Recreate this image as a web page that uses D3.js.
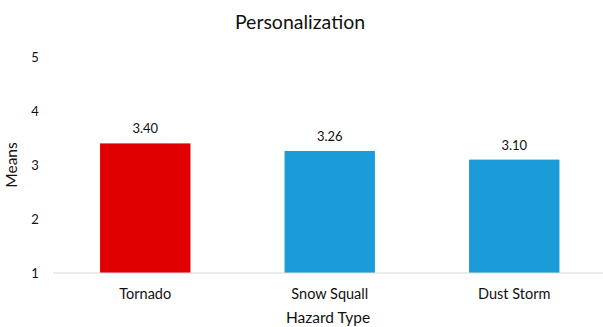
<!DOCTYPE html>
<html>
<head>
<meta charset="utf-8">
<script src="https://cdn.jsdelivr.net/npm/d3@7"></script>
<style>
  html, body { margin: 0; padding: 0; background: #fff; }
  svg { display: block; font-family: Lato, "Open Sans", sans-serif; }
</style>
</head>
<body>
<svg id="chart" width="603" height="327"></svg>
<script>
const categories = ["Tornado", "Snow Squall", "Dust Storm"];
const means = [3.40, 3.26, 3.10];
const barColors = ["#e00000", "#1b9cd8", "#1b9cd8"];
const yTicks = [1, 2, 3, 4, 5];

const svg = d3.select("#chart");
const x = d3.scaleBand().domain(categories).range([53, 606.5]).paddingInner(0.51).paddingOuter(0.255);
const y = d3.scaleLinear().domain([1, 5]).range([273, 57]);

// title
svg.append("text").attr("x", 300).attr("y", 29).attr("text-anchor", "middle")
  .attr("font-size", 19.5).attr("fill", "#111").text("Personalization");

// y tick labels
svg.append("g").selectAll("text").data(yTicks).join("text")
  .attr("x", 35).attr("y", d => y(d)).attr("dy", "0.35em").attr("text-anchor", "middle")
  .attr("font-size", 13).attr("fill", "#111").text(d => d);

// y title
svg.append("text").attr("transform", "translate(17,165) rotate(-90)").attr("text-anchor", "middle")
  .attr("font-size", 15.5).attr("fill", "#111").text("Means");

// bars
svg.append("g").selectAll("rect").data(categories).join("rect")
  .attr("x", d => x(d)).attr("width", x.bandwidth())
  .attr("y", (d, i) => y(means[i])).attr("height", (d, i) => y(1) - y(means[i]))
  .attr("fill", (d, i) => barColors[i]);

// baseline
svg.append("line").attr("x1", 53).attr("x2", 606).attr("y1", y(1)).attr("y2", y(1))
  .attr("stroke", "#d9d9d9").attr("stroke-width", 1.2);

// value labels
svg.append("g").selectAll("text").data(categories).join("text")
  .attr("x", d => x(d) + x.bandwidth() / 2).attr("y", (d, i) => y(means[i]) - 10)
  .attr("text-anchor", "middle").attr("font-size", 13).attr("fill", "#111")
  .text((d, i) => means[i].toFixed(2));

// category labels
svg.append("g").selectAll("text").data(categories).join("text")
  .attr("x", d => x(d) + x.bandwidth() / 2).attr("y", 298.5)
  .attr("text-anchor", "middle").attr("font-size", 14.5).attr("fill", "#111").text(d => d);

// x title
svg.append("text").attr("x", 328).attr("y", 323).attr("text-anchor", "middle")
  .attr("font-size", 15.5).attr("fill", "#111").text("Hazard Type");
</script>
</body>
</html>
